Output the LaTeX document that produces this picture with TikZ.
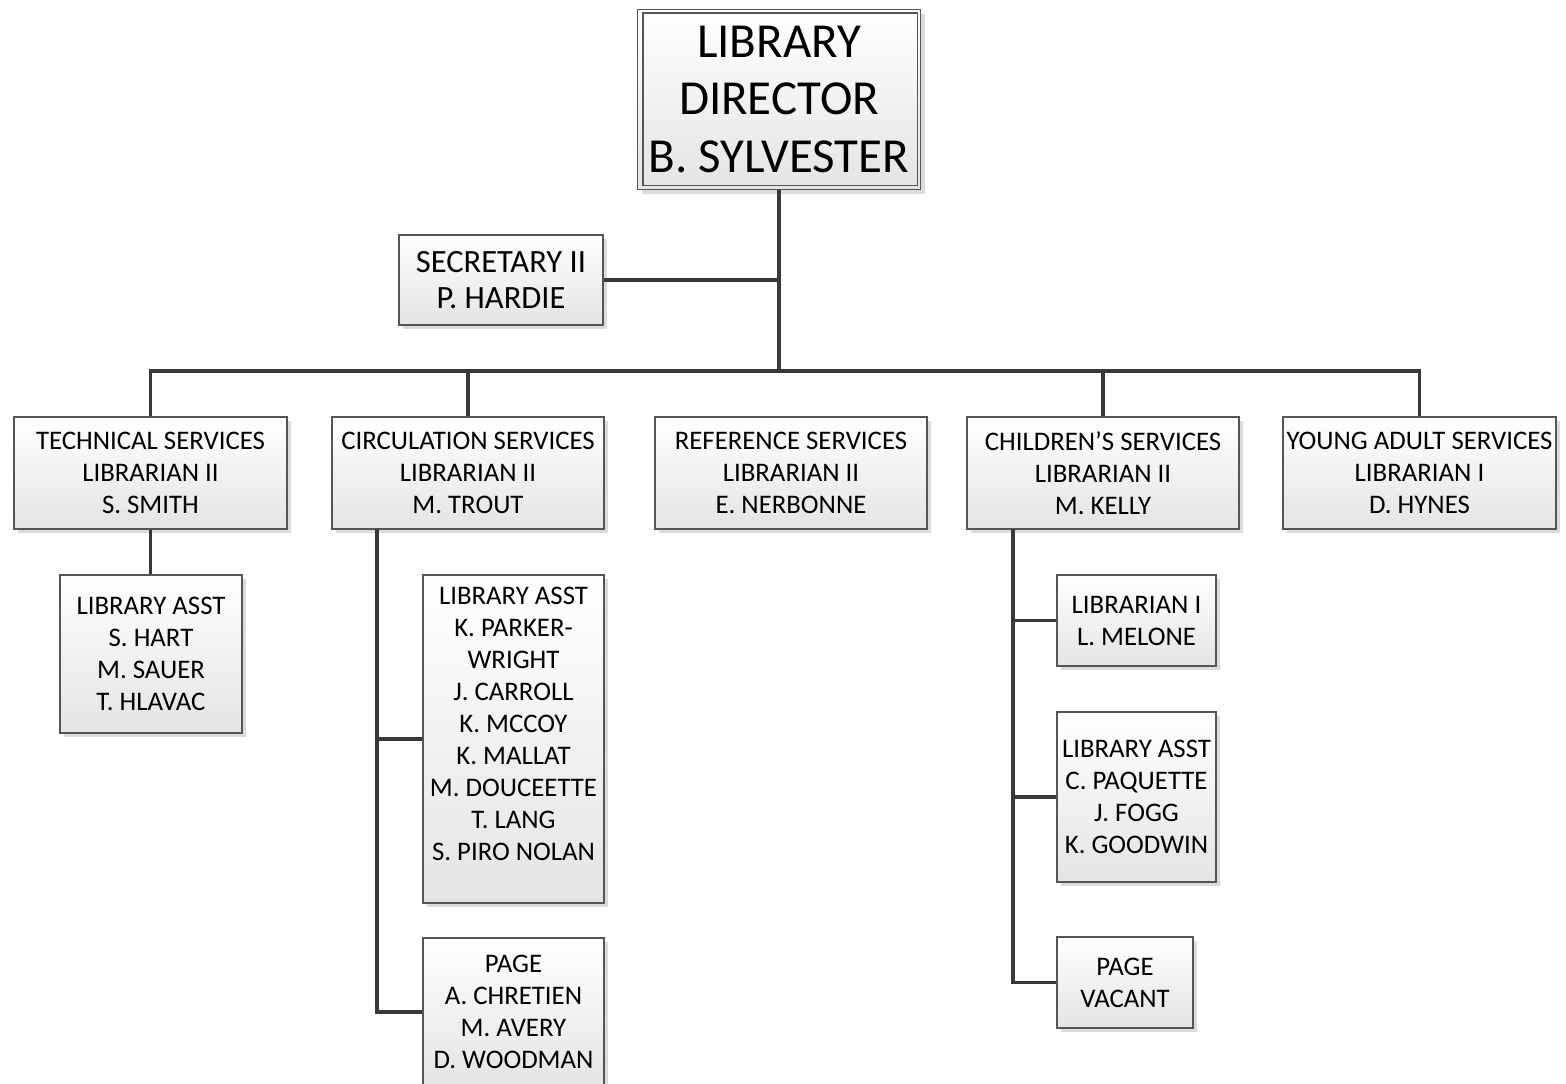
\documentclass[tikz,border=0pt]{standalone}
\usepackage{fontspec}
\setmainfont{Carlito}
\usetikzlibrary{shadows,calc}
\definecolor{edge}{HTML}{555555}
\definecolor{wire}{HTML}{383838}
\definecolor{shade}{HTML}{E4E4E4}
\begin{document}
\begin{tikzpicture}[x=1pt,y=-1pt,
  box/.style={draw=edge, line width=1.3pt, top color=white, bottom color=shade,
    drop shadow={shadow xshift=4pt, shadow yshift=-4pt, fill=black!14, opacity=1},
    align=center, inner sep=0pt, font=\fontsize{26.8}{32}\selectfont},
  wire/.style={draw=wire, line width=3.2pt},
  txt/.style={align=center, inner sep=0pt, font=\fontsize{26.8}{32}\selectfont}]
\useasboundingbox (0,0) rectangle (1566,1084);
\clip (0,0) rectangle (1566,1084);

% director
\node[box, minimum width=283pt, minimum height=180pt,
  font=\fontsize{48.9}{57.5}\selectfont] (dir) at (779,99.5)
  {LIBRARY\\DIRECTOR\\B. SYLVESTER};
\draw[edge, line width=1.3pt] ($(dir.north west)+(6,4)$) rectangle ($(dir.south east)+(-4,-5)$);

% secretary
\node[box, minimum width=204pt, minimum height=90pt,
  font=\fontsize{32.5}{36}\selectfont] (sec) at (501,280)
  {SECRETARY II\\P. HARDIE};

% departments
\node[box, minimum width=273pt, minimum height=112pt] (tech) at (150.5,473)
  {TECHNICAL SERVICES\\LIBRARIAN II\\S. SMITH};
\node[box, minimum width=272pt, minimum height=112pt] (circ) at (468,473)
  {CIRCULATION SERVICES\\LIBRARIAN II\\M. TROUT};
\node[box, minimum width=272pt, minimum height=112pt] (ref) at (791,473)
  {REFERENCE SERVICES\\LIBRARIAN II\\E. NERBONNE};
\node[box, minimum width=272pt, minimum height=112pt] (child) at (1103,473)
  {CHILDREN’S SERVICES\\LIBRARIAN II\\M. KELLY};
\node[box, minimum width=273pt, minimum height=112pt] (ya) at (1419.5,473)
  {YOUNG ADULT SERVICES\\LIBRARIAN I\\D. HYNES};

% technical services staff
\node[box, minimum width=182pt, minimum height=158pt] (tasst) at (151,654)
  {LIBRARY ASST\\S. HART\\M. SAUER\\T. HLAVAC};

% circulation staff
\node[box, minimum width=181pt, minimum height=328pt] (casst) at (513.5,739) {};
\node[txt] (casstt) at (513.5,724)
  {LIBRARY ASST\\K. PARKER-\\WRIGHT\\J. CARROLL\\K. MCCOY\\K. MALLAT\\M. DOUCEETTE\\T. LANG\\S. PIRO NOLAN};
\node[box, minimum width=181pt, minimum height=148pt] (cpage) at (513.5,1012)
  {PAGE\\A. CHRETIEN\\M. AVERY\\D. WOODMAN};

% children's staff
\node[box, minimum width=159pt, minimum height=91pt] (klib) at (1136.5,620.5)
  {LIBRARIAN I\\L. MELONE};
\node[box, minimum width=159pt, minimum height=170pt] (kasst) at (1136.5,797)
  {LIBRARY ASST\\C. PAQUETTE\\J. FOGG\\K. GOODWIN};
\node[box, minimum width=136pt, minimum height=91pt] (kpage) at (1125,982.5)
  {PAGE\\VACANT};

% connectors
\coordinate (bus) at (779,371);
\coordinate (cv) at (377,529);
\coordinate (kv) at (1013,529);
\draw[wire] (dir.south) -- (bus);
\draw[wire] (sec.east) -- (sec.east -| bus);
\draw[wire] (bus) -| (tech.north);
\draw[wire] (bus) -| (circ.north);
\draw[wire] (bus) -| (child.north);
\draw[wire] (bus) -| (ya.north);
\draw[wire] (tech.south) -- (tech.south |- tasst.north);
\draw[wire] (cv) |- (casst.west);
\draw[wire] (cv) |- (cpage.west);
\draw[wire] (kv) |- (klib.west);
\draw[wire] (kv) |- (kasst.west);
\draw[wire] (kv) |- (kpage.west);
\end{tikzpicture}
\end{document}
